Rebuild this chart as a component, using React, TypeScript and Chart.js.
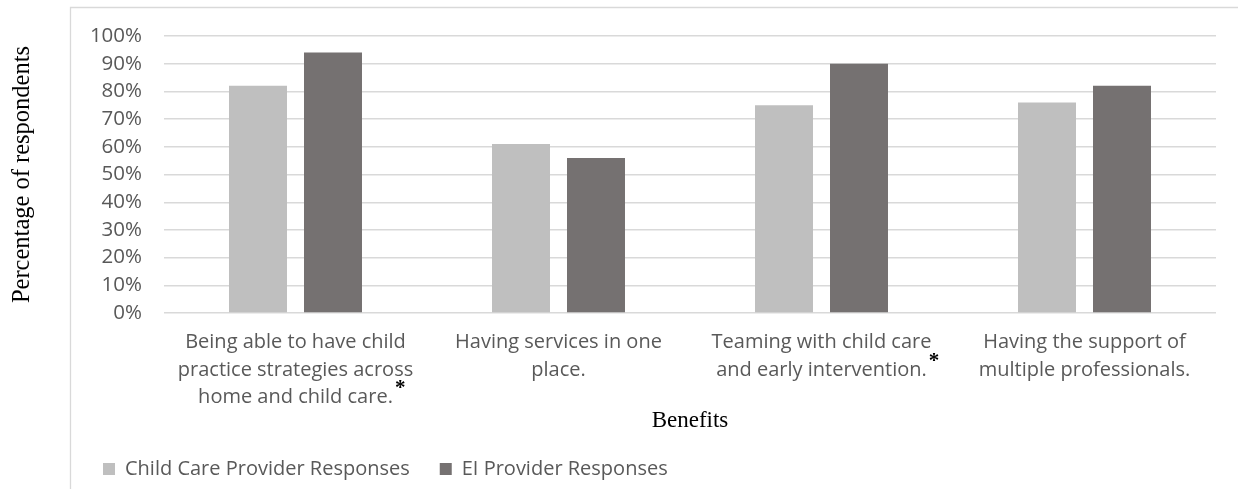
import React, { useEffect, useRef } from "react";
import { Chart, registerables } from "chart.js";

Chart.register(...registerables);

// ---- data ----
const categories: string[][] = [
  ["Being able to have child", "practice strategies across", "home and child care."],
  ["Having services in one", "place."],
  ["Teaming with child care", "and early intervention."],
  ["Having the support of", "multiple professionals."],
];
const starred = [true, false, true, false];
const seriesNames = ["Child Care Provider Responses", "EI Provider Responses"];
const childCareValues = [82, 61, 75, 76];
const eiValues = [94, 56, 90, 82];
const yTitle = "Percentage of respondents";
const xTitle = "Benefits";

const colors = ["#BFBFBF", "#757171"];
const tickColor = "#595959";
const gridColor = "#D9D9D9";
const sans = "'Open Sans', 'DejaVu Sans', sans-serif";
const serif = "'Liberation Serif', 'Times New Roman', serif";

const decorPlugin = {
  id: "decor",
  beforeDraw(chart: any) {
    if (chart.legend) chart.legend.left = 73;
    const { ctx, width, height } = chart;
    ctx.save();
    ctx.strokeStyle = gridColor;
    ctx.lineWidth = 1.3;
    ctx.beginPath();
    ctx.moveTo(70.5, height);
    ctx.lineTo(70.5, 7.5);
    ctx.lineTo(width, 7.5);
    ctx.stroke();
    ctx.restore();
  },
  afterDraw(chart: any) {
    const scale = chart.scales.x;
    const { ctx } = chart;
    const tf = scale.options.ticks.font;
    const lh = tf.size * tf.lineHeight;
    const pad = scale.options.ticks.padding;
    ctx.save();
    categories.forEach((lines, i) => {
      if (!starred[i]) return;
      const last = lines[lines.length - 1];
      ctx.font = `${tf.size}px ${tf.family}`;
      const w = ctx.measureText(last).width;
      const x = scale.getPixelForTick(i) + w / 2 + 2;
      const y = scale.top + pad + lh * (lines.length - 1) + lh / 2 - 9;
      ctx.font = `bold 21px ${serif}`;
      ctx.fillStyle = "#000";
      ctx.textAlign = "left";
      ctx.textBaseline = "middle";
      ctx.fillText("*", x, y);
    });
    ctx.restore();
  },
};

export default function App() {
  const ref = useRef<HTMLCanvasElement | null>(null);

  useEffect(() => {
    if (!ref.current) return;
    const chart = new Chart(ref.current, {
      type: "bar",
      data: {
        labels: categories,
        datasets: [
          {
            label: seriesNames[0],
            data: childCareValues,
            backgroundColor: colors[0],
            borderWidth: 0,
            categoryPercentage: 0.5703,
            barPercentage: 0.7733,
          },
          {
            label: seriesNames[1],
            data: eiValues,
            backgroundColor: colors[1],
            borderWidth: 0,
            categoryPercentage: 0.5703,
            barPercentage: 0.7733,
          },
        ],
      },
      options: {
        responsive: false,
        animation: false,
        devicePixelRatio: 1,
        layout: { padding: { left: 8, right: 22, top: 36, bottom: 0 } },
        plugins: {
          legend: {
            display: true,
            position: "bottom",
            align: "start",
            labels: {
              boxWidth: 12,
              boxHeight: 12,
              padding: 30,
              color: tickColor,
              font: { family: sans, size: 20 },
            },
          },
          tooltip: { enabled: false },
          title: { display: false },
        },
        scales: {
          x: {
            grid: { display: false, drawTicks: false },
            border: { display: false },
            ticks: {
              color: tickColor,
              font: { family: sans, size: 20, lineHeight: 1.375 },
              padding: 16,
              maxRotation: 0,
              minRotation: 0,
              autoSkip: false,
            },
            title: {
              display: true,
              text: xTitle,
              color: "#000",
              font: { family: serif, size: 23, lineHeight: 1 },
              padding: { top: 0, bottom: -3.5 },
            },
            afterFit: (scale: any) => {
              scale.height = 116;
            },
          },
          y: {
            min: 0,
            max: 100,
            grid: { color: gridColor, lineWidth: 1.4, drawTicks: false },
            border: { display: false },
            ticks: {
              stepSize: 10,
              autoSkip: false,
              color: tickColor,
              font: { family: sans, size: 20.5, lineHeight: 1.1 },
              padding: 22,
              callback: (v: any) => `${v}%`,
            },
            title: {
              display: true,
              text: yTitle,
              color: "#000",
              font: { family: serif, size: 24.5, lineHeight: 1.2 },
              padding: 0,
            },
            afterFit: (scale: any) => {
              scale.width = 156;
            },
          },
        },
      },
      plugins: [decorPlugin],
    });
    return () => chart.destroy();
  }, []);

  return (
    <div style={{ position: "fixed", left: 0, top: 0, width: 1238, height: 489, background: "#fff" }}>
      <canvas ref={ref} width={1238} height={489} style={{ display: "block" }} />
    </div>
  );
}
